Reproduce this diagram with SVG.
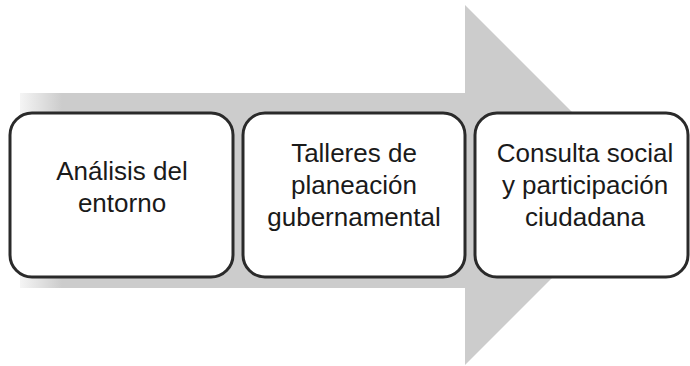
<svg xmlns="http://www.w3.org/2000/svg" width="690" height="366" viewBox="0 0 690 366">
<style>
.box{fill:#ffffff;stroke:#2a2a2a;stroke-width:3}
.lbl{font-family:"Liberation Sans",Arial,sans-serif;font-size:26px;fill:#1a1a1a;text-anchor:middle}
</style>
<defs>
<linearGradient id="fade" x1="0" y1="0" x2="1" y2="0">
<stop offset="0" stop-color="#cccccc" stop-opacity="0.2"/>
<stop offset="1" stop-color="#cccccc" stop-opacity="1"/>
</linearGradient>
</defs>
<rect width="690" height="366" fill="#ffffff"/>
<g id="arrow">
<rect x="20" y="93" width="42" height="195" fill="url(#fade)"/>
<polygon points="62,93 465,93 465,5 645,185 465,365 465,288 62,288" fill="#cccccc"/>
</g>
<g id="node1">
<rect class="box" x="10" y="113" width="223" height="164" rx="22"/>
<text class="lbl" x="122" y="180">Análisis del</text>
<text class="lbl" x="122" y="212">entorno</text>
</g>
<g id="node2">
<rect class="box" x="243" y="113" width="222" height="164" rx="22"/>
<text class="lbl" x="354" y="162">Talleres de</text>
<text class="lbl" x="354" y="194">planeación</text>
<text class="lbl" x="354" y="226">gubernamental</text>
</g>
<g id="node3">
<rect class="box" x="475" y="113" width="213" height="164" rx="22"/>
<text class="lbl" x="585" y="162">Consulta social</text>
<text class="lbl" x="585" y="194">y participación</text>
<text class="lbl" x="585" y="226">ciudadana</text>
</g>
<g id="connectors"></g>
</svg>
